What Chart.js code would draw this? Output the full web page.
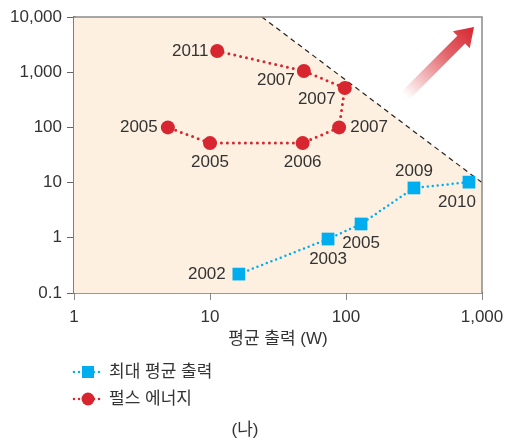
<!DOCTYPE html>
<html>
<head>
<meta charset="utf-8">
<script src="https://cdn.jsdelivr.net/npm/chart.js"></script>
<style>
  html, body { margin: 0; padding: 0; background: #fff; }
  #wrap { width: 506px; height: 442px; }
</style>
</head>
<body>
<div id="wrap"><canvas id="chart" width="506" height="442"></canvas></div>
<script>
// data
var powerX = [16.3, 73.8, 129, 316, 802];
var powerY = [0.22, 0.95, 1.78, 8.0, 10.2];
var powerYears = ["2002", "2003", "2005", "2009", "2010"];

var pulseX = [11.3, 49, 98, 89, 48, 10, 4.9];
var pulseY = [2420, 1050, 517, 100, 52, 52, 100];
var pulseYears = ["2011", "2007", "2007", "2007", "2006", "2005", "2005"];

var limitX = [24.1, 1000];
var limitY = [10000, 10];

var xTicks = [1, 10, 100, 1000];
var yTicks = [0.1, 1, 10, 100, 1000, 10000];

var seriesNames = ["최대 평균 출력", "펄스 에너지"];
var xTitle = "평균 출력 (W)";
var caption = "(나)";

// where each year label sits relative to its point
var powerLabelPos = [[-32, 0], [0, 20], [0, 19], [0, -17], [-12, 20]];
var pulseLabelPos = [[-27, 0], [-28, 9], [-28, 11], [30, 0], [0, 19], [0, 19], [-29, 0]];

var BLUE = "#00aeef";
var RED = "#d7262f";
var PEACH = "#fdf0e1";
var TEXT = "#333333";
var FONT = "'Liberation Sans', 'Noto Sans CJK KR', sans-serif";

Chart.defaults.font.family = FONT;
Chart.defaults.font.size = 17;
Chart.defaults.color = TEXT;

function pts(xs, ys) {
  var out = [];
  for (var i = 0; i < xs.length; i++) out.push({x: xs[i], y: ys[i]});
  return out;
}

// fill area under the dashed limit line
var fillPts = [{x: xTicks[0], y: limitY[0]}].concat(pts(limitX, limitY));

var yearLabels = {
  id: "yearLabels",
  afterDatasetsDraw: function(chart) {
    var ctx = chart.ctx;
    var sets = [[0, powerYears, powerLabelPos], [1, pulseYears, pulseLabelPos]];
    ctx.save();
    ctx.font = "17px " + FONT;
    ctx.fillStyle = TEXT;
    ctx.textAlign = "center";
    ctx.textBaseline = "middle";
    sets.forEach(function(s) {
      var meta = chart.getDatasetMeta(s[0]);
      meta.data.forEach(function(p, i) {
        ctx.fillText(s[1][i], p.x + s[2][i][0], p.y + s[2][i][1]);
      });
    });
    ctx.restore();
  }
};

var frame = {
  id: "frame",
  afterDraw: function(chart) {
    var ctx = chart.ctx, a = chart.chartArea;
    ctx.save();
    // top and right border
    ctx.strokeStyle = "#8a8a8a";
    ctx.lineWidth = 1.5;
    ctx.beginPath();
    ctx.moveTo(a.left, a.top);
    ctx.lineTo(a.right, a.top);
    ctx.lineTo(a.right, a.bottom);
    ctx.stroke();

    // red arrow
    var tx = a.right - 8, ty = a.top + 10;
    var sx = a.right - 77, sy = a.top + 79;
    var ang = Math.atan2(ty - sy, tx - sx);
    var len = Math.hypot(tx - sx, ty - sy);
    var g = ctx.createLinearGradient(sx, sy, tx, ty);
    g.addColorStop(0, "rgba(215,38,47,0)");
    g.addColorStop(0.6, "rgba(215,38,47,0.7)");
    g.addColorStop(1, "rgba(215,38,47,1)");
    ctx.translate(sx, sy);
    ctx.rotate(ang);
    var hl = 18, sw = 5.5, hw = 12;
    ctx.beginPath();
    ctx.moveTo(0, -sw);
    ctx.lineTo(len - hl, -sw);
    ctx.lineTo(len - hl, -hw);
    ctx.lineTo(len, 0);
    ctx.lineTo(len - hl, hw);
    ctx.lineTo(len - hl, sw);
    ctx.lineTo(0, sw);
    ctx.closePath();
    ctx.setTransform(1, 0, 0, 1, 0, 0);
    ctx.fillStyle = g;
    ctx.fill();
    ctx.restore();
  }
};

var legendBox = {
  id: "legendBox",
  afterDraw: function(chart) {
    var ctx = chart.ctx;
    var items = [[BLUE, "rect", 372], [RED, "circle", 399]];
    ctx.save();
    items.forEach(function(it, i) {
      var y = it[2];
      ctx.strokeStyle = it[0];
      ctx.lineWidth = 2.5;
      ctx.lineCap = "round";
      ctx.setLineDash([0, 5]);
      ctx.beginPath();
      ctx.moveTo(74, y);
      ctx.lineTo(102, y);
      ctx.stroke();
      ctx.setLineDash([]);
      ctx.fillStyle = it[0];
      if (it[1] == "rect") {
        ctx.fillRect(82, y - 6, 12, 12);
      } else {
        ctx.beginPath();
        ctx.arc(88, y, 6.5, 0, Math.PI * 2);
        ctx.fill();
      }
      ctx.fillStyle = TEXT;
      ctx.font = "17px " + FONT;
      ctx.textAlign = "left";
      ctx.textBaseline = "middle";
      ctx.fillText(seriesNames[i], 109, y);
    });
    ctx.textAlign = "center";
    ctx.fillText(caption, 245, 430);
    ctx.restore();
  }
};

var ctx = document.getElementById("chart");
var chart = new Chart(ctx, {
  type: "line",
  data: {
    datasets: [
      {
        label: seriesNames[0],
        data: pts(powerX, powerY),
        borderColor: BLUE,
        backgroundColor: BLUE,
        borderWidth: 2.5,
        borderDash: [0, 5],
        borderCapStyle: "round",
        pointStyle: "rect",
        pointRadius: 9,
        pointBorderWidth: 0,
        fill: false,
        order: 0
      },
      {
        label: seriesNames[1],
        data: pts(pulseX, pulseY),
        borderColor: RED,
        backgroundColor: RED,
        borderWidth: 3,
        borderDash: [0, 6],
        borderCapStyle: "round",
        pointStyle: "circle",
        pointRadius: 7,
        pointBorderWidth: 0,
        fill: false,
        order: 1
      },
      {
        label: "limit",
        data: pts(limitX, limitY),
        borderColor: "#222",
        borderWidth: 1.2,
        borderDash: [5, 4],
        pointRadius: 0,
        fill: false,
        order: 2
      },
      {
        label: "area",
        data: fillPts,
        borderWidth: 0,
        borderColor: "rgba(0,0,0,0)",
        backgroundColor: PEACH,
        pointRadius: 0,
        fill: "start",
        order: 3
      }
    ]
  },
  options: {
    responsive: false,
    animation: false,
    layout: { padding: { left: 0, right: 24, top: 17, bottom: 89 } },
    plugins: {
      legend: { display: false },
      tooltip: { enabled: false }
    },
    scales: {
      x: {
        type: "logarithmic",
        min: 1,
        max: 1000,
        afterBuildTicks: function(s) { s.ticks = xTicks.map(function(v) { return {value: v}; }); },
        afterFit: function(s) { s.height = 60; s.paddingLeft = 0; s.paddingRight = 0; },
        ticks: {
          color: TEXT,
          padding: 7,
          maxRotation: 0,
          callback: function(v) { return Number(v).toLocaleString("en-US"); }
        },
        grid: { drawOnChartArea: false, drawTicks: true, tickLength: 7, color: "#888" },
        border: { color: "#333", width: 1.5 },
        title: { display: true, text: xTitle, color: TEXT, font: {size: 17}, padding: {top: 0, bottom: 3} }
      },
      y: {
        type: "logarithmic",
        min: 0.1,
        max: 10000,
        afterBuildTicks: function(s) { s.ticks = yTicks.map(function(v) { return {value: v}; }); },
        afterFit: function(s) { s.width = 74; s.paddingTop = 0; s.paddingBottom = 0; },
        ticks: {
          color: TEXT,
          padding: 5,
          callback: function(v) { return Number(v).toLocaleString("en-US"); }
        },
        grid: { drawOnChartArea: false, drawTicks: true, tickLength: 7, color: "#666" },
        border: { color: "#7d7d7d", width: 2.5 }
      }
    }
  },
  plugins: [yearLabels, frame, legendBox]
});
</script>
</body>
</html>
